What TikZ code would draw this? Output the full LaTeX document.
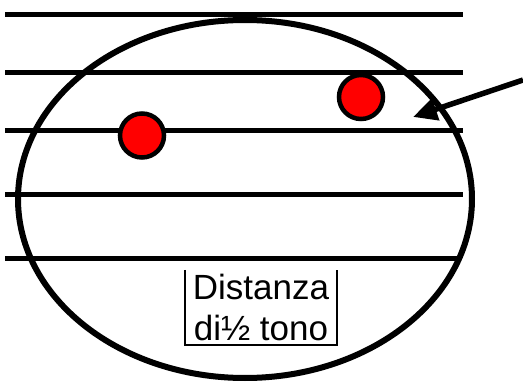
\documentclass[tikz,border=0pt]{standalone}
\usepackage{fontspec}
\setmainfont{Liberation Sans}
\usetikzlibrary{arrows.meta}

\tikzset{
  staffline/.style={line width=5pt},
  nota/.style={circle, draw, fill=red, line width=4.5pt, minimum size=44pt, inner sep=0pt},
}

\begin{document}
\begin{tikzpicture}[x=1pt, y=-1pt]
        \useasboundingbox (0,0) rectangle (523,385);

        % rigo musicale
        \foreach \y/\e in {14.5/463, 72.5/463, 130.5/463, 194.5/463, 258.5/458}
          \draw[staffline] (5,\y) -- (\e,\y);

        \draw[line width=6pt] (245,199) ellipse [x radius=227, y radius=179];

        \node[nota] (N1) at (142,135.5) {};
        \node[nota] (N2) at (361,97) {};

        \node[minimum width=152pt, minimum height=75pt, inner sep=0pt, align=center,
              font=\fontsize{35}{41}\selectfont] (D) at (261,307.5) {Distanza\\di½ tono};
        \draw[line width=1.8pt] (D.north west) -- (D.south west) -- (D.south east) -- (D.north east);

        \coordinate (A) at (523,80);
        \coordinate (B) at (413,117);
        \draw[line width=5.5pt, -{Triangle[length=24pt, width=22pt]}] (A) -- (B);

\end{tikzpicture}
\end{document}
